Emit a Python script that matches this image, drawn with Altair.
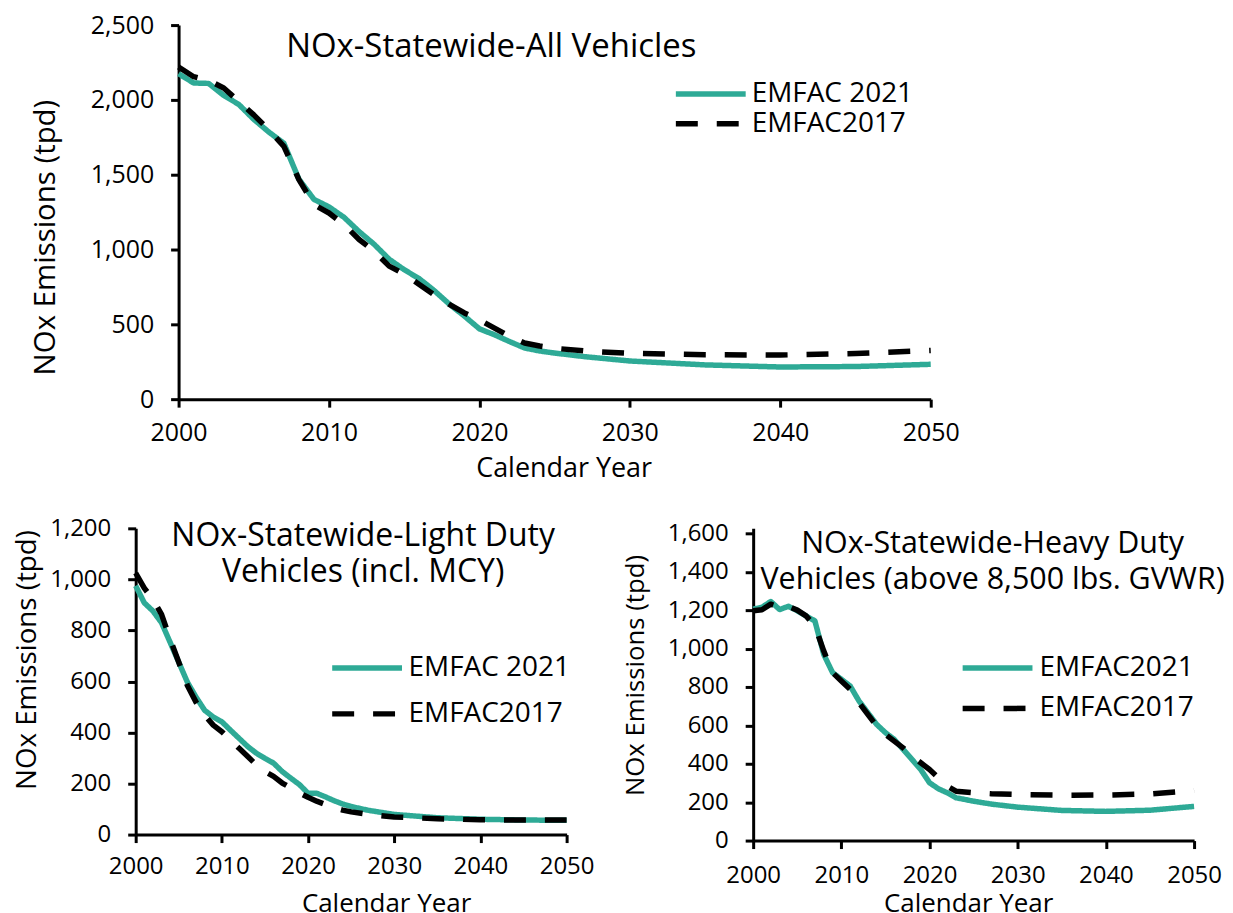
import altair as alt
import pandas as pd

FONT = "Open Sans"
GREEN = "#2EAA96"

# ---------------- data ----------------
# Panel 1: all vehicles
all_years = [2000, 2001, 2002, 2003, 2004, 2005, 2006, 2007, 2008, 2009, 2010,
             2011, 2012, 2013, 2014, 2015, 2016, 2017, 2018, 2019, 2020,
             2021, 2022, 2023, 2024, 2025, 2027, 2030, 2035, 2040, 2045, 2050]
all_2021 = [2175, 2113, 2110, 2030, 1970, 1870, 1785, 1710, 1470, 1335, 1285,
            1215, 1120, 1035, 935, 865, 805, 725, 635, 555, 470,
            430, 385, 342, 322, 308, 284, 255, 229, 215, 218, 233]
all_2017 = [2220, 2155, 2130, 2080, 1990, 1900, 1800, 1690, 1467, 1300, 1244,
            1167, 1067, 989, 889, 836, 767, 696, 633, 576, 530,
            475, 420, 375, 355, 340, 322, 306, 297, 295, 305, 325]

# Panel 2: light duty (incl. MCY)
ld_years = [2000, 2001, 2002, 2003, 2004, 2005, 2006, 2007, 2008, 2009, 2010,
            2011, 2012, 2013, 2014, 2015, 2016, 2017, 2018, 2019, 2020,
            2021, 2022, 2023, 2024, 2025, 2027, 2030, 2035, 2040, 2045, 2050]
ld_2021 = [975, 908, 876, 830, 753, 675, 597, 539, 487, 461, 442,
           409, 377, 345, 319, 299, 280, 247, 221, 196, 162,
           162, 148, 133, 120, 110, 95, 79, 66, 60, 57, 56]
ld_2017 = [1025, 966, 921, 863, 766, 675, 584, 519, 468, 429, 403,
           370, 338, 306, 273, 247, 228, 202, 183, 163, 146,
           131, 118, 105, 96, 89, 79, 69, 62, 58, 57, 57]

# Panel 3: heavy duty (above 8,500 lbs. GVWR)
hd_years = [2000, 2001, 2002, 2003, 2004, 2005, 2006, 2007, 2008, 2009, 2010,
            2011, 2012, 2013, 2014, 2015, 2016, 2017, 2018, 2019, 2020,
            2021, 2022, 2023, 2025, 2027, 2030, 2035, 2040, 2045, 2050]
hd_2021 = [1205, 1215, 1245, 1203, 1220, 1197, 1170, 1144, 970, 875, 840,
           805, 727, 666, 605, 562, 527, 475, 423, 370, 301,
           270, 249, 223, 205, 190, 174, 157, 152, 158, 178]
hd_2017 = [1197, 1202, 1231, 1215, 1219, 1200, 1170, 1118, 988, 875, 831,
           788, 718, 657, 597, 553, 518, 483, 440, 405, 370,
           327, 283, 257, 249, 244, 240, 236, 237, 243, 261]

ALL_NAMES = ["EMFAC 2021", "EMFAC2017"]
LD_NAMES = ["EMFAC 2021", "EMFAC2017"]
HD_NAMES = ["EMFAC2021", "EMFAC2017"]

X_TICKS = [2000, 2010, 2020, 2030, 2040, 2050]


def frame(years, v21, v17, names):
    rows = [{"year": y, "value": v, "series": names[0], "o": i} for i, (y, v) in enumerate(zip(years, v21))]
    rows += [{"year": y, "value": v, "series": names[1], "o": 100 + i} for i, (y, v) in enumerate(zip(years, v17))]
    return pd.DataFrame(rows)


def panel(df, names, shift, plot_w, height, ydom, ymax, ystep,
          title, title_fs, title_dx, title_offset,
          leg_x, leg_y, leg_rowpad, leg_laboff,
          xlab_pad, xtitle_y, xtitle_x, xtitle_fs,
          ytitle_pad, ytitle_y, ytitle_fs, tick_fs):
    legend = alt.Legend(
        orient="none", legendX=leg_x, legendY=leg_y, title=None,
        symbolType="M-5,0H5", symbolSize=196, symbolStrokeWidth=5.5,
        labelFont=FONT, labelFontSize=28, labelColor="black", labelLimit=400,
        labelOffset=leg_laboff, rowPadding=leg_rowpad, padding=0, direction="vertical",
    )
    return alt.Chart(df).mark_line(strokeWidth=5.5, strokeJoin="round").encode(
        x=alt.X("year:Q",
                scale=alt.Scale(domain=[2000, 2050], range=[shift, shift + plot_w],
                                nice=False, zero=False),
                axis=alt.Axis(values=X_TICKS, format="d", title="Calendar Year",
                              titleY=xtitle_y, titleX=xtitle_x,
                              titleFontSize=xtitle_fs, labelFlush=False, labelOverlap=False,
                              labelPadding=xlab_pad, labelFontSize=tick_fs)),
        y=alt.Y("value:Q",
                scale=alt.Scale(domain=[0, ydom], nice=False),
                axis=alt.Axis(values=list(range(0, ymax + 1, ystep)), format=",.0f",
                              title="NOx Emissions (tpd)", labelPadding=17, offset=-shift,
                              labelFlush=False, labelOverlap=False,
                              labelFontSize=tick_fs, titlePadding=ytitle_pad,
                              titleY=ytitle_y, titleFontSize=ytitle_fs)),
        color=alt.Color("series:N", scale=alt.Scale(domain=names, range=[GREEN, "black"]),
                        legend=legend),
        strokeDash=alt.StrokeDash("series:N",
                                  scale=alt.Scale(domain=names, range=[[1, 0], [22, 19]]),
                                  legend=legend),
        order=alt.Order("o:Q"),
    ).properties(
        width=shift + plot_w, height=height,
        title=alt.TitleParams(text=title, font=FONT, fontSize=title_fs, fontWeight="normal",
                              color="black", anchor="middle", frame="group", orient="top",
                              baseline="top", offset=title_offset, dx=title_dx, lineHeight=36),
    )


top = panel(frame(all_years, all_2021, all_2017, ALL_NAMES), ALL_NAMES, 43, 754, 375, 2500, 2500, 500,
            "NOx-Statewide-All Vehicles", 33, -42, -50.5,
            562.5, 55, 2, 27,
            13, 57, 429, 27,
            30, 212.5, 29.5, 25)
ld = panel(frame(ld_years, ld_2021, ld_2017, LD_NAMES), LD_NAMES, 0, 432, 307, 1200, 1200, 200,
           ["NOx-Statewide-Light Duty", "Vehicles (incl. MCY)"], 32, 12, -73,
           218, 126, 18, 27.5,
           12.5, 56.5, 251, 26,
           8, 131.5, 27.8, 24)
hd = panel(frame(hd_years, hd_2021, hd_2017, HD_NAMES), HD_NAMES, 0, 442, 313, 1626, 1600, 200,
           ["NOx-Statewide-Heavy Duty", "Vehicles (above 8,500 lbs. GVWR)"], 30.5, 19, -74,
           231, 126, 12.5, 28,
           15.5, 50.5, 215.5, 26,
           19, 147, 25.8, 24)

bottom = alt.hconcat(ld, hd, spacing=27).resolve_scale(color="independent", strokeDash="independent")

chart = alt.vconcat(top, bottom, spacing=34.5).resolve_scale(
    color="independent", strokeDash="independent"
).properties(
    padding={"left": 5, "top": 4, "right": 0, "bottom": 0}
).configure(background="white").configure_view(stroke=None).configure_axis(
    domainColor="black", domainWidth=3, tickColor="black", tickWidth=3, tickSize=8,
    labelColor="black", labelFont=FONT, titleFont=FONT, titleFontSize=27,
    titleFontWeight="normal", titleColor="black", grid=False,
)

chart.save("out.html", embed_options={"renderer": "svg", "actions": False})
